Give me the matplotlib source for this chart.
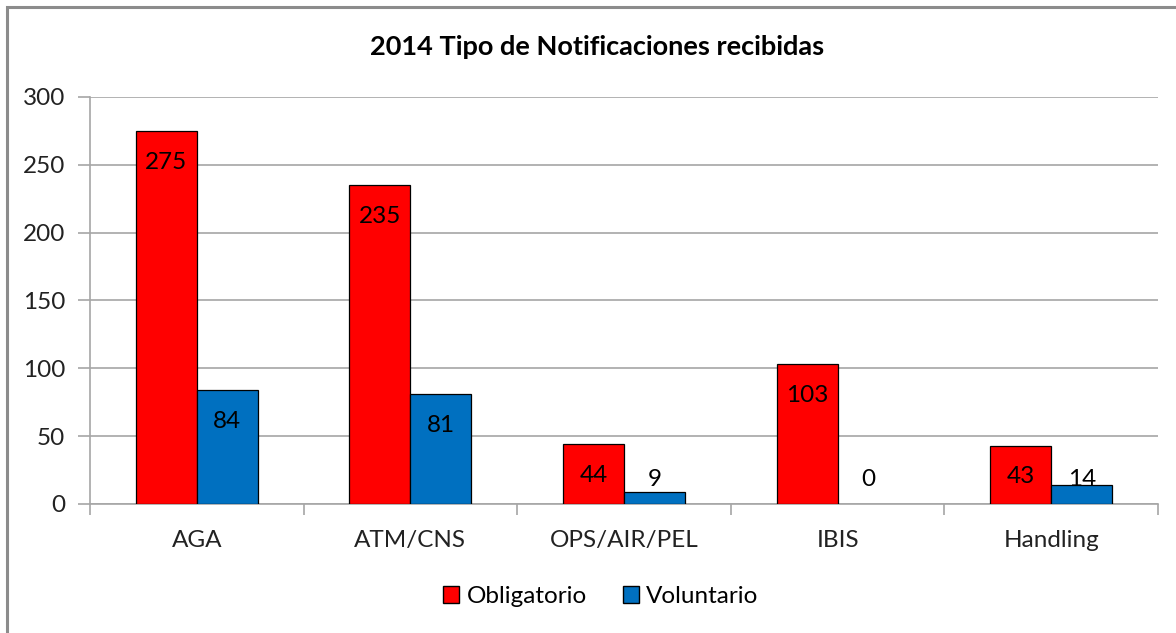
import matplotlib
matplotlib.use('Agg')
from matplotlib import pyplot as plt
from matplotlib.patches import Rectangle, Patch
import numpy as np

categories = ['AGA', 'ATM/CNS', 'OPS/AIR/PEL', 'IBIS', 'Handling']
obligatorio = [275, 235, 44, 103, 43]
voluntario = [84, 81, 9, 0, 14]
yticks = [0, 50, 100, 150, 200, 250, 300]

plt.rcParams['font.family'] = ['Lato', 'DejaVu Sans']

red = '#ff0000'
blue = '#0070c0'
grid = '#a6a6a6'
fs = 17.5

fig = plt.figure(figsize=(11.76, 6.33), dpi=100)
ax = fig.add_axes([0.0765, 0.2038, 0.9082, 0.643])

# chart border (only top/left are visible in the reference)
fig.patches.append(Rectangle((7 / 1176, -0.1), 1.2, 1 - 7 / 633 + 0.1,
                             transform=fig.transFigure, fill=False,
                             edgecolor='#8c8c8c', linewidth=2.2))

x = np.arange(len(categories))
w = 0.286
ax.bar(x - w / 2, obligatorio, w, color=red, edgecolor='black', linewidth=0.9, zorder=3)
ax.bar(x + w / 2, voluntario, w, color=blue, edgecolor='black',
       linewidth=[0.9 if v > 0 else 0 for v in voluntario], zorder=3)

# value labels near the top, clamped for short bars
for xs, vals in ((x - w / 2, obligatorio), (x + w / 2, voluntario)):
    for xi, v in zip(xs, vals):
        ax.text(xi, max(v - 23, 18), str(v), ha='center', va='center',
                fontsize=fs, color='black', zorder=4)

ax.set_xlim(-0.5, len(categories) - 0.5)
ax.set_ylim(0, 300)
ax.set_yticks(yticks)
ax.yaxis.grid(True, color=grid, linewidth=1.2, zorder=0)
ax.set_axisbelow(True)

ax.set_xticks(x)
ax.set_xticklabels(categories)
ax.set_xticks(np.arange(len(categories) + 1) - 0.5, minor=True)
ax.tick_params(axis='x', which='major', length=0, pad=19, labelsize=fs, labelcolor='#222222')
ax.tick_params(axis='x', which='minor', length=8, color=grid, width=1.2)
ax.tick_params(axis='y', length=9, color=grid, width=1.2, pad=9, labelsize=fs, labelcolor='#222222')

for s in ('top', 'right'):
    ax.spines[s].set_visible(False)
for s in ('left', 'bottom'):
    ax.spines[s].set_color(grid)
    ax.spines[s].set_linewidth(1.2)

fig.text(0.508, 0.925, '2014 Tipo de Notificaciones recibidas', ha='center', va='center',
         fontsize=19.5, fontweight='bold')

handles = [Patch(facecolor=red, edgecolor='black', label='Obligatorio'),
           Patch(facecolor=blue, edgecolor='black', label='Voluntario')]
fig.legend(handles=handles, loc='center', bbox_to_anchor=(0.511, 0.058), ncol=2,
           frameon=False, fontsize=fs, handlelength=0.65, handleheight=0.7,
           handletextpad=0.3, columnspacing=1.5)

fig.savefig('out.png', dpi=100)
